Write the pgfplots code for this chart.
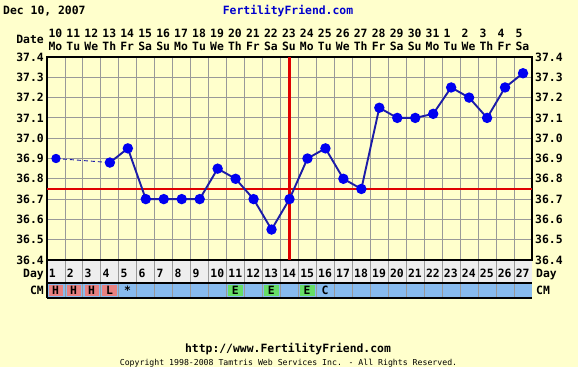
\documentclass[border=0pt]{standalone}
\usepackage{fontspec}
\usepackage{pgfplots}
\usepackage{pgfplotstable}
\pgfplotsset{compat=1.18}
\setmainfont{DejaVu Sans Mono}
\definecolor{bg}{HTML}{FFFFCC}
\definecolor{gridc}{HTML}{999999}
\definecolor{dayrow}{HTML}{EEEEEE}
\definecolor{cmrow}{HTML}{88BBEE}
\definecolor{cmred}{HTML}{E88080}
\definecolor{cmgreen}{HTML}{66DD66}
\definecolor{redl}{HTML}{E00000}
\definecolor{linec}{HTML}{1C1CA8}
\definecolor{markc}{HTML}{0000F0}
\definecolor{ffblue}{HTML}{0000CC}
\newcommand{\tf}{\fontsize{11.4}{12}\selectfont\bfseries}
\newcommand{\cf}{\fontsize{8.2}{9}\selectfont}

\pgfplotstableread{
day temp
4 36.88
5 36.95
6 36.70
7 36.70
8 36.70
9 36.70
10 36.85
11 36.80
12 36.70
13 36.55
14 36.70
15 36.90
16 36.95
17 36.80
18 36.75
19 37.15
20 37.10
21 37.10
22 37.12
23 37.25
24 37.20
25 37.10
26 37.25
27 37.32
}\solidtab
\pgfplotstableread{
day temp
1 36.90
4 36.88
}\dashtab

\begin{document}
\begin{tikzpicture}
\fill[bg] (0pt,0pt) rectangle (578pt,-367pt);
% header
\node[anchor=base west, inner sep=0pt] at (3pt,-14pt) {\tf Dec 10, 2007};
\node[anchor=base, inner sep=0pt, text=ffblue] at (288pt,-14pt) {\tf FertilityFriend.com};
\node[anchor=base east, inner sep=0pt] at (44pt,-43pt) {\tf Date};
\foreach \i/\d/\w in {1/10/Mo,2/11/Tu,3/12/We,4/13/Th,5/14/Fr,6/15/Sa,7/16/Su,8/17/Mo,9/18/Tu,10/19/We,11/20/Th,12/21/Fr,13/22/Sa,14/23/Su,15/24/Mo,16/25/Tu,17/26/We,18/27/Th,19/28/Fr,20/29/Sa,21/30/Su,22/31/Mo,23/1/Tu,24/2/We,25/3/Th,26/4/Fr,27/5/Sa}{
  \pgfmathsetmacro\xt{47+(\i-1)*17.963+1.3}
  \node[anchor=base west, inner sep=0pt] at (\xt pt,-37pt) {\tf \d};
  \node[anchor=base west, inner sep=0pt] at (\xt pt,-50pt) {\tf \w};
}
% day row and CM row
\fill[dayrow] (47pt,-260pt) rectangle (532pt,-283pt);
\fill[cmrow] (47pt,-283pt) rectangle (532pt,-298pt);
\foreach \i/\c in {1/cmred,2/cmred,3/cmred,4/cmred,11/cmgreen,13/cmgreen,15/cmgreen}{
  \pgfmathsetmacro\xa{47+(\i-1)*17.963+1.6}
  \pgfmathsetmacro\xb{47+\i*17.963-1.6}
  \fill[\c] (\xa pt,-284.8pt) rectangle (\xb pt,-296.4pt);
}
\foreach \i in {1,...,26}{
  \pgfmathsetmacro\xg{47+\i*17.963}
  \draw[gridc, line width=0.9pt] (\xg pt,-260pt) -- (\xg pt,-298pt);
}
\draw[black, line width=1.1pt] (47pt,-260pt) -- (532pt,-260pt);
\draw[black, line width=1.1pt] (47pt,-283pt) -- (532pt,-283pt);
\draw[black, line width=1.1pt] (47pt,-298pt) -- (532pt,-298pt);
\draw[black, line width=1.1pt] (47pt,-260pt) -- (47pt,-298pt);
\foreach \i in {1,...,27}{
  \pgfmathsetmacro\xt{47+(\i-1)*17.963+1.6}
  \node[anchor=base west, inner sep=0pt] at (\xt pt,-277pt) {\tf \i};
}
\foreach \i/\t in {1/H,2/H,3/H,4/L,5/*,11/E,13/E,15/E,16/C}{
  \pgfmathsetmacro\xt{47+(\i-1)*17.963+5}
  \node[anchor=base west, inner sep=0pt] at (\xt pt,-294.5pt) {\tf \t};
}
\node[anchor=base east, inner sep=0pt] at (44pt,-277pt) {\tf Day};
\node[anchor=base east, inner sep=0pt] at (44pt,-294.5pt) {\tf CM};
\node[anchor=base west, inner sep=0pt] at (536pt,-277pt) {\tf Day};
\node[anchor=base west, inner sep=0pt] at (536pt,-294.5pt) {\tf CM};
% right tick labels
\foreach \k/\lab in {0/36.4,1/36.5,2/36.6,3/36.7,4/36.8,5/36.9,6/37.0,7/37.1,8/37.2,9/37.3,10/37.4}{
  \pgfmathsetmacro\yy{-260+\k*20.3}
  \node[anchor=west, inner sep=0pt] at (535pt,\yy pt) {\tf \lab};
}
\begin{axis}[
  at={(47pt,-260pt)}, anchor=south west,
  width=485pt, height=203pt, scale only axis,
  xmin=0.5, xmax=27.5, ymin=36.4, ymax=37.4,
  axis line style={black, line width=1.1pt},
  xtick={1.5,2.5,...,26.5}, xticklabels={},
  ytick={36.4,36.5,36.6,36.7,36.8,36.9,37.0,37.1,37.2,37.3,37.4},
  yticklabels={36.4,36.5,36.6,36.7,36.8,36.9,37.0,37.1,37.2,37.3,37.4},
  yticklabel style={font=\tf, inner sep=0pt, xshift=-3pt},
  major tick length=0pt,
  grid=major,
  major grid style={gridc, line width=0.9pt},
  clip=false,
]
\addplot[redl, line width=2.6pt, forget plot] coordinates {(14,36.4) (14,37.4)};
\addplot[redl, line width=2.6pt, forget plot] coordinates {(0.5,36.75) (27.5,36.75)};
\addplot[linec, line width=0.9pt, dash pattern=on 4pt off 3pt, mark=*, mark size=4.2pt, mark options={solid, fill=markc, draw=markc}] table[x=day, y=temp] {\dashtab};
\addplot[linec, line width=1.9pt, mark=*, mark size=4.2pt, mark options={solid, fill=markc, draw=markc}] table[x=day, y=temp] {\solidtab};
\end{axis}
% footer
\node[anchor=base, inner sep=0pt] at (288pt,-352pt) {\tf http://www.FertilityFriend.com};
\node[anchor=base, inner sep=0pt] at (288.5pt,-365pt) {\cf Copyright 1998-2008 Tamtris Web Services Inc. - All Rights Reserved.};
\pgfresetboundingbox
\path (0pt,0pt) rectangle (578pt,-367pt);
\end{tikzpicture}
\end{document}
